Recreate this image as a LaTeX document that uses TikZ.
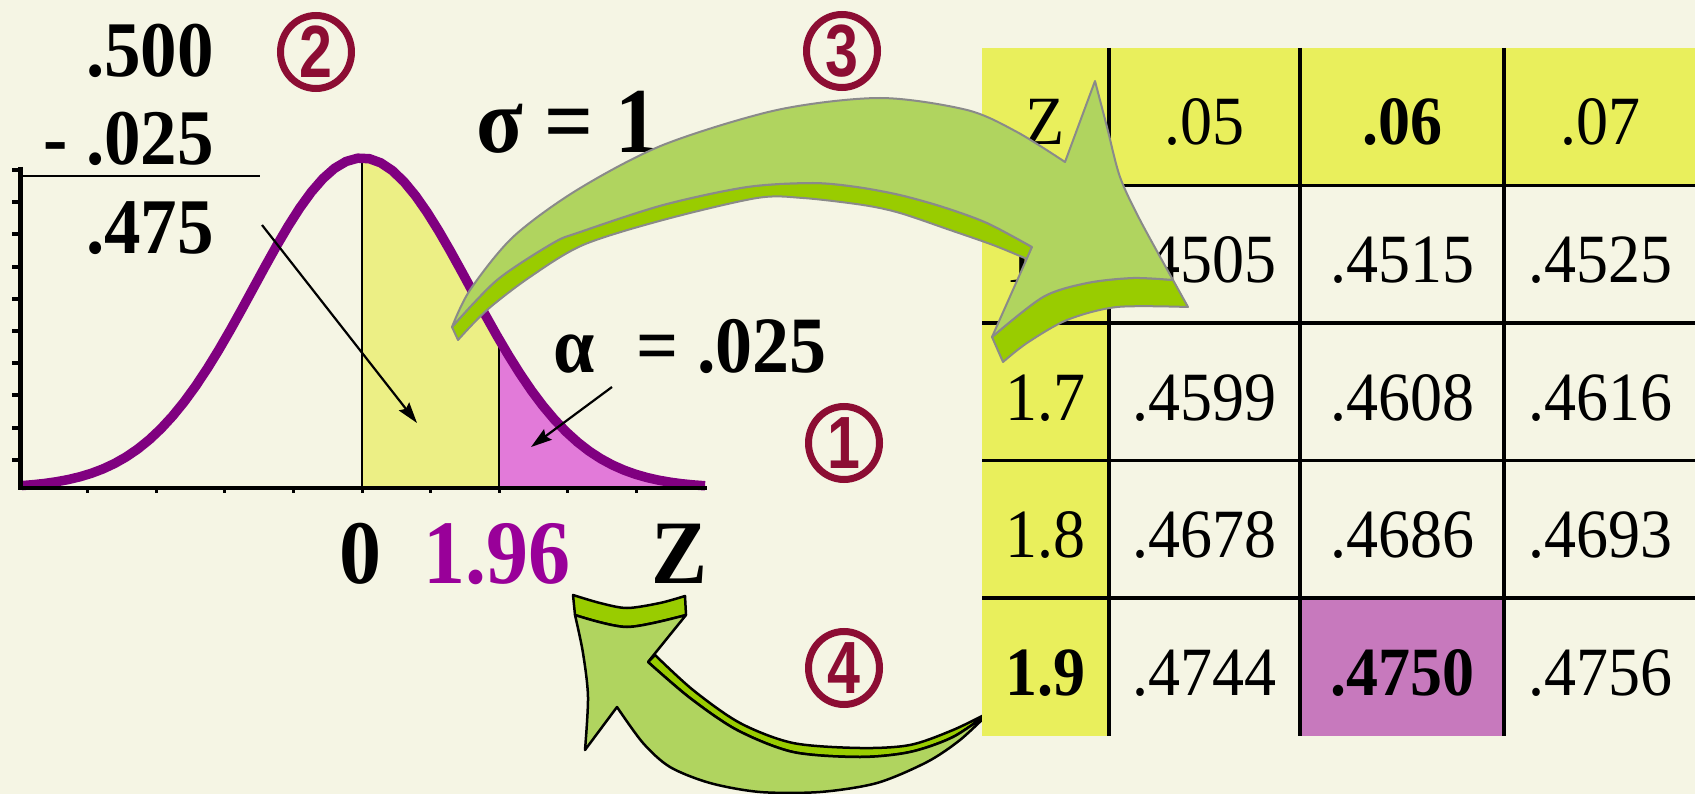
\documentclass[tikz,border=0pt]{standalone}
\usepackage{fontspec}
\setmainfont{Liberation Serif}
\newfontfamily\circfont{Liberation Sans}
\usetikzlibrary{arrows.meta}
\definecolor{bg}{HTML}{F5F5E4}
\definecolor{tabyellow}{HTML}{E9EF5C}
\definecolor{chartyellow}{HTML}{ECEF85}
\definecolor{pinkfill}{HTML}{E27AD9}
\definecolor{highlight}{HTML}{C779BD}
\definecolor{curvepurple}{HTML}{800080}
\definecolor{labelpurple}{HTML}{990099}
\definecolor{circred}{HTML}{8C0D33}
\definecolor{glight}{HTML}{B0D45F}
\definecolor{gdark}{HTML}{99CC00}
\definecolor{gline}{HTML}{8A8A8A}
\newcommand{\vstr}[1]{\scalebox{1}[1.08]{#1}}
\begin{document}
\begin{tikzpicture}[x=1pt,y=-1pt,
  declare function={bell(\t)=488-330*exp(-0.5*((\t-362)/108.5)^2);},
  calc/.style={font=\fontsize{73}{80}\selectfont\bfseries, inner sep=0, anchor=base east},
  biglab/.style={font=\fontsize{84}{90}\selectfont\bfseries, inner sep=0, anchor=base},
  tabtxt/.style={font=\fontsize{64}{70}\selectfont, inner sep=0, anchor=base},
  circring/.style={draw=circred, line width=7pt},
  circnum/.style={font=\fontsize{74}{78}\selectfont\circfont\bfseries, text=circred, inner sep=0, anchor=center},
  pointer/.style={line width=2.2pt, -{Stealth[length=21pt,width=13pt,inset=3pt]}},
  g3dark/.style={fill=gdark, draw=gline, line width=2pt, line join=round},
  g3light/.style={fill=glight, draw=gline, line width=2pt, line join=round},
  g4dark/.style={fill=gdark, draw=black, line width=2.5pt, line join=round},
  g4light/.style={fill=glight, draw=black, line width=2.5pt, line join=round},
  grid/.style={line width=3.5pt, black}
]
\useasboundingbox (0,0) rectangle (1695,794);
\fill[bg] (0,0) rectangle (1695,794);

% ---------- arrow 4 (under the table) ----------
\filldraw[g4dark] plot[smooth] coordinates {(573,595) (600,603) (627,608) (660,603) (685,596)}
  -- (686,615) -- plot[smooth] coordinates {(686,615) (627,627) (575,615)} -- cycle;
\filldraw[g4dark] (648,662) -- plot[smooth] coordinates {(655,655) (693,690) (740,723) (793,743) (860,748) (910,745) (953,730) (990,712)}
  -- plot[smooth] coordinates {(990,712) (953,737) (910,752) (860,757) (793,752) (737,730) (690,698) (648,662)} -- cycle;
\filldraw[g4light] plot[smooth] coordinates {(575,615) (583,653) (588,697) (585,750)}
  -- (617,707)
  -- plot[smooth] coordinates {(617,707) (643,743) (670,767) (710,783) (760,792) (820,792) (877,783) (927,762) (960,740) (990,712)}
  -- plot[smooth] coordinates {(990,712) (953,737) (910,752) (860,757) (793,752) (737,730) (690,698) (648,662)}
  -- (686,615)
  -- plot[smooth] coordinates {(686,615) (627,627) (575,615)} -- cycle;

% ---------- table ----------
\fill[tabyellow] (982,48) rectangle (1695,185.5);
\fill[tabyellow] (982,48) rectangle (1109,735.5);
\fill[highlight] (1300,598) rectangle (1504,735.5);
\foreach \xx in {1109,1300,1504} \draw[grid] (\xx,48) -- (\xx,735.5);
\foreach \yy in {185.5,323,460.5,598} \draw[grid] (982,\yy) -- (1695,\yy);

\node[tabtxt] (h0) at (1045.5,145) {\vstr{Z}};
\node[tabtxt] (h1) at (1204.5,145) {\vstr{.05}};
\node[tabtxt] (h2) at (1402,145) {\vstr{\bfseries .06}};
\node[tabtxt] (h3) at (1600,145) {\vstr{.07}};
\node[tabtxt] (r1c0) at (1045.5,282.5) {\vstr{1.6}};
\node[tabtxt] (r1c1) at (1204.5,282.5) {\vstr{.4505}};
\node[tabtxt] (r1c2) at (1402,282.5) {\vstr{.4515}};
\node[tabtxt] (r1c3) at (1600,282.5) {\vstr{.4525}};
\node[tabtxt] (r2c0) at (1045.5,420) {\vstr{1.7}};
\node[tabtxt] (r2c1) at (1204.5,420) {\vstr{.4599}};
\node[tabtxt] (r2c2) at (1402,420) {\vstr{.4608}};
\node[tabtxt] (r2c3) at (1600,420) {\vstr{.4616}};
\node[tabtxt] (r3c0) at (1045.5,557.5) {\vstr{1.8}};
\node[tabtxt] (r3c1) at (1204.5,557.5) {\vstr{.4678}};
\node[tabtxt] (r3c2) at (1402,557.5) {\vstr{.4686}};
\node[tabtxt] (r3c3) at (1600,557.5) {\vstr{.4693}};
\node[tabtxt] (r4c0) at (1045.5,695) {\vstr{\bfseries 1.9}};
\node[tabtxt] (r4c1) at (1204.5,695) {\vstr{.4744}};
\node[tabtxt] (r4c2) at (1402,695) {\vstr{\bfseries .4750}};
\node[tabtxt] (r4c3) at (1600,695) {\vstr{.4756}};

% ---------- chart ----------
\fill[chartyellow] (362,488) -- plot[domain=362:499, samples=40] (\x,{bell(\x)}) -- (499,488) -- cycle;
\fill[pinkfill] (499,488) -- plot[domain=499:705, samples=50] (\x,{bell(\x)}) -- (705,488) -- cycle;
\draw[line width=2pt] (362,158) -- (362,488);
\draw[line width=2pt] (499,{bell(499)}) -- (499,488);
\draw[curvepurple, line width=9.5pt, line join=round] plot[domain=22:705, samples=60] (\x,{bell(\x)});
\draw[line width=4.5pt] (18,488) -- (707,488);
\foreach \k in {-4,...,4} \draw[line width=3pt] ({362+68.6*\k},488) -- ({362+68.6*\k},493);
\draw[line width=5pt] (20,167) -- (20,490);
\foreach \k in {0,...,9} \draw[line width=4pt] (12,{170+32.2*\k}) -- (20,{170+32.2*\k});

% ---------- calculation ----------
\node[calc] (v500) at (214,77) {\vstr{.500}};
\node[calc] (v025) at (214,165) {\vstr{- .025}};
\draw[line width=2pt] (22,176) -- (260,176);
\node[calc] (v475) at (214,254) {\vstr{.475}};

\node[font=\fontsize{86}{90}\selectfont\bfseries, inner sep=0, anchor=base west] (sigma) at (476,153) {\vstr{σ = 1}};
\node[font=\fontsize{74}{80}\selectfont\bfseries, inner sep=0, anchor=base west] (alpha) at (553,373) {\vstr{α}};
\node[font=\fontsize{74}{80}\selectfont\bfseries, inner sep=0, anchor=base east] (alphaval) at (827,373) {\vstr{= .025}};

\node[biglab] (lab0) at (360,583) {\vstr{0}};
\node[biglab, text=labelpurple] (lab196) at (497,583) {\vstr{1.96}};
\node[biglab] (labZ) at (680,583) {\vstr{Z}};

% pointer arrows
\coordinate (pA1) at (262,225);
\coordinate (pA2) at (417,423);
\coordinate (pB1) at (612,387);
\coordinate (pB2) at (531,447);
\draw[pointer] (pA1) -- (pA2);
\draw[pointer] (pB1) -- (pB2);

% circled numbers
\draw[circring] (316,52) ellipse [x radius=35.5pt, y radius=36.5pt];
\node[circnum] (c2) at (316,52) {\scalebox{0.8}[1]{2}};
\draw[circring] (842,51) ellipse [x radius=35.5pt, y radius=36.5pt];
\node[circnum] (c3) at (842,51) {\scalebox{0.8}[1]{3}};
\draw[circring] (844,443) ellipse [x radius=35.5pt, y radius=36.5pt];
\node[circnum] (c1) at (844,443) {\scalebox{0.8}[1]{1}};
\draw[circring] (844,668) ellipse [x radius=35.5pt, y radius=36.5pt];
\node[circnum] (c4) at (844,668) {\scalebox{0.8}[1]{4}};

% ---------- arrow 3 (over table) ----------
\filldraw[g3dark] plot[smooth] coordinates {(452,327) (497,280) (553,243) (580,232) (663,205) (747,187) (813,183) (857,187) (900,195) (943,207) (987,223) (1032,247)}
  -- (1027,259)
  -- plot[smooth] coordinates {(1027,259) (993,245) (950,230) (900,213) (863,205) (803,198) (757,198) (663,220) (583,245) (530,277) (487,310) (458,340)} -- cycle;
\filldraw[g3dark] (992,337) -- (1003,362)
  -- plot[smooth] coordinates {(1003,362) (1027,343) (1067,320) (1117,307) (1188,307)}
  -- (1173,280)
  -- plot[smooth] coordinates {(1173,280) (1133,278) (1087,283) (1043,297) (992,337)} -- cycle;
\filldraw[g3light] plot[smooth] coordinates {(452,327) (470,290) (513,237) (577,190) (663,145) (777,110) (880,98) (967,110) (1017,132) (1065,162)}
  -- plot[smooth] coordinates {(1095,81) (1107,127) (1120,177) (1140,220) (1173,280)}
  -- plot[smooth] coordinates {(1173,280) (1133,278) (1087,283) (1043,297) (992,337)}
  -- plot[smooth] coordinates {(1032,247) (987,223) (943,207) (900,195) (857,187) (813,183) (747,187) (663,205) (580,232) (553,243) (497,280) (452,327)}
  -- cycle;
\end{tikzpicture}
\end{document}
